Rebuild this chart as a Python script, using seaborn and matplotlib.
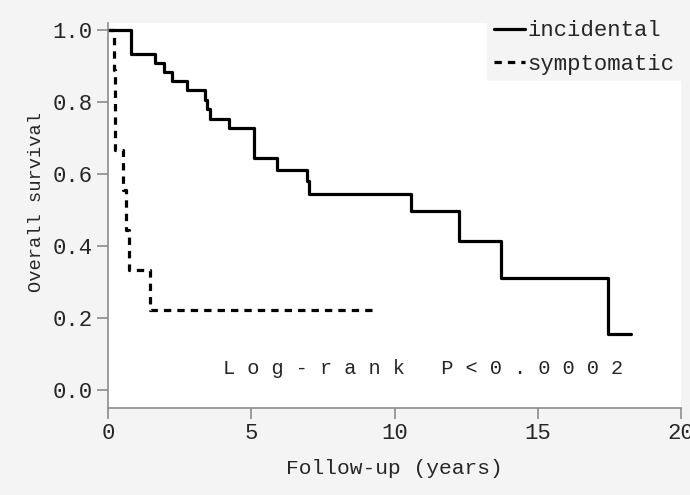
import numpy as np
import pandas as pd
import matplotlib
matplotlib.use("Agg")
import matplotlib.pyplot as plt
import seaborn as sns

# Kaplan-Meier steps (time in years, survival fraction)
incidental_t = [0.0, 0.79, 1.64, 1.96, 2.23, 2.77, 3.40, 3.47, 3.57, 4.21, 5.10,
                5.90, 6.95, 7.0, 10.56, 12.25, 13.70, 17.46, 18.25]
incidental_s = [1.0, 0.934, 0.907, 0.884, 0.858, 0.832, 0.806, 0.780, 0.753, 0.727, 0.643,
                0.612, 0.580, 0.545, 0.497, 0.414, 0.310, 0.155, 0.155]

symptomatic_t = [0.0, 0.22, 0.23, 0.24, 0.52, 0.62, 0.72, 1.47, 9.22]
symptomatic_s = [1.0, 0.889, 0.778, 0.667, 0.556, 0.444, 0.333, 0.222, 0.222]

groups = ["incidental", "symptomatic"]
pvalue_text = "L o g - r a n k   P < 0 . 0 0 0 2"

df = pd.concat([
    pd.DataFrame({"time": incidental_t, "surv": incidental_s, "group": groups[0]}),
    pd.DataFrame({"time": symptomatic_t, "surv": symptomatic_s, "group": groups[1]}),
])

sns.set_style("white")
bg = "#f4f4f4"
plt.rcParams["font.family"] = ["Liberation Mono", "DejaVu Sans Mono"]
plt.rcParams["font.size"] = 16

fig = plt.figure(figsize=(6.9, 4.95), dpi=100, facecolor=bg)
ax = fig.add_axes([108 / 690, 1 - 408 / 495, 573 / 690, 385 / 495])

sns.lineplot(data=df, x="time", y="surv", hue="group", style="group",
             palette={"incidental": "black", "symptomatic": "black"},
             dashes={"incidental": "", "symptomatic": (2.3, 1.9)},
             estimator=None, sort=False, drawstyle="steps-post",
             linewidth=2.3, ax=ax)

ax.set_xlim(0, 20)
ax.set_ylim(-0.05, 1.019)
ax.set_xticks([0, 5, 10, 15, 20])
ax.set_yticks([0.0, 0.2, 0.4, 0.6, 0.8, 1.0])
ax.set_yticklabels(["0.0", "0.2", "0.4", "0.6", "0.8", "1.0"])
ax.set_xlabel("Follow-up (years)", labelpad=10.5, fontsize=15.3)
ax.set_ylabel("Overall survival", fontsize=13.5)
ax.yaxis.set_label_coords(-0.11, 0.535)

for side in ["top", "right"]:
    ax.spines[side].set_visible(False)
for side in ["left", "bottom"]:
    ax.spines[side].set_color("#8c8c8c")
    ax.spines[side].set_linewidth(1.2)
ax.tick_params(axis="both", direction="out", length=8, width=1.2, color="#8c8c8c",
               left=True, bottom=True, pad=3, labelsize=16)

ax.text(4.0, 0.061, pvalue_text, ha="left", va="center", fontsize=14.6)

leg = ax.legend(loc="upper right", bbox_to_anchor=(1.0, 1.024), borderaxespad=0,
                frameon=True, fancybox=False, facecolor=bg, edgecolor="none",
                framealpha=1, handlelength=1.4, handletextpad=0.1,
                labelspacing=0.55, borderpad=0.3, fontsize=16)

fig.savefig("out.png", dpi=100, facecolor=bg)
